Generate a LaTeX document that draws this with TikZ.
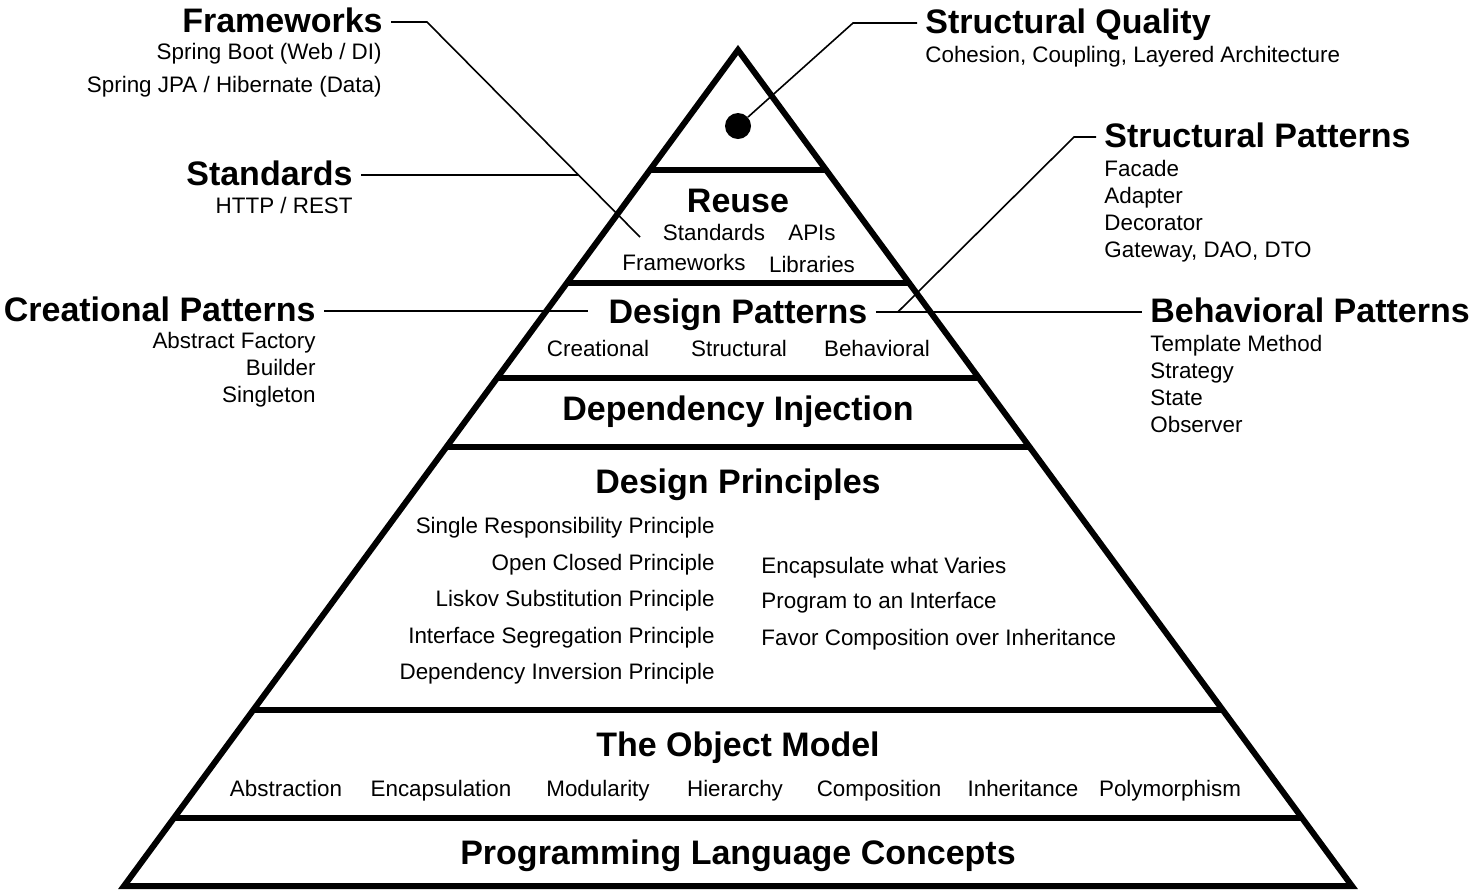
\documentclass[tikz,border=0pt]{standalone}
\usepackage{fontspec}
\setmainfont{Liberation Sans}
\usetikzlibrary{calc}
\begin{document}
\begin{tikzpicture}[x=0.5pt,y=-0.5pt, head/.style={font=\bfseries\fontsize{17}{20}\selectfont,text height=10pt,text depth=0pt,inner xsep=4pt,inner ysep=0pt}, item/.style={font=\fontsize{11.2}{13}\selectfont,inner sep=0pt}, layer/.style={line width=3pt,line join=miter}, lead/.style={line width=0.8pt}]
\useasboundingbox (0,0) rectangle (1471,891);
\coordinate (apex) at (738,50);\coordinate (bl) at (124,886);\coordinate (br) at (1352,886);
\draw[layer] (apex) -- (bl) -- (br) -- cycle;
\foreach \y in {170,283,378,447,710,818} \draw[layer] ($(apex)!{(\y-50)/836}!(bl)$) -- ($(apex)!{(\y-50)/836}!(br)$);
\node[circle,fill,minimum size=13pt,inner sep=0pt] (dot) at (738,126) {};
% layers
\node[head,anchor=base] (reuse) at (738,212) {Reuse};
\node[item,anchor=base] (rstd) at (714,240) {Standards};\node[item,anchor=base] (rapi) at (812,240) {APIs};
\node[item,anchor=base] (rfw) at (684,270) {Frameworks};\node[item,anchor=base] (rlib) at (812,272) {Libraries};
\node[head,anchor=base] (dp) at (738,323) {Design Patterns};
\node[item,anchor=base] (dpc) at (598,356) {Creational};\node[item,anchor=base] (dps) at (739,356) {Structural};\node[item,anchor=base] (dpb) at (877,356) {Behavioral};
\node[head,anchor=base] (di) at (738,420) {Dependency Injection};
\node[head,anchor=base] (prin) at (738,493) {Design Principles};
\foreach \t/\y [count=\i] in {Single Responsibility Principle/533,Open Closed Principle/570,Liskov Substitution Principle/606,Interface Segregation Principle/643,Dependency Inversion Principle/679}
  \node[item,anchor=base east] (pl\i) at (715,\y) {\t};
\foreach \t/\y [count=\i] in {Encapsulate what Varies/573,Program to an Interface/608,Favor Composition over Inheritance/645}
  \node[item,anchor=base west] (pr\i) at (761,\y) {\t};
\node[head,anchor=base] (om) at (738,756) {The Object Model};
\foreach \t/\x [count=\i] in {Abstraction/286,Encapsulation/441,Modularity/598,Hierarchy/735,Composition/879,Inheritance/1023,Polymorphism/1170}
  \node[item,anchor=base] (om\i) at (\x,796) {\t};
\node[head,anchor=base] (plc) at (738,864) {Programming Language Concepts};
% side labels
\node[head,anchor=base east] (fw) at (391,32) {Frameworks};
\node[item,anchor=base east] (fw1) at (382,59) {Spring Boot (Web / DI)};\node[item,anchor=base east] (fw2) at (382,92) {Spring JPA / Hibernate (Data)};
\node[head,anchor=base east] (std) at (361,185) {Standards};
\node[item,anchor=base east] (std1) at (353,213) {HTTP / REST};
\node[head,anchor=base east] (cp) at (324,321) {Creational Patterns};
\foreach \t [count=\i] in {Abstract Factory,Builder,Singleton} \node[item,anchor=base east] (cp\i) at (316,{321+27*\i}) {\t};
\node[head,anchor=base west] (sq) at (917,33) {Structural Quality};
\node[item,anchor=base west] (sq1) at (925,62) {Cohesion, Coupling, Layered Architecture};
\node[head,anchor=base west] (sp) at (1096,147) {Structural Patterns};
\foreach \t [count=\i] in {Facade,Adapter,Decorator,{Gateway, DAO, DTO}} \node[item,anchor=base west] (sp\i) at (1104,{149+27*\i}) {\t};
\node[head,anchor=base west] (bp) at (1142,322) {Behavioral Patterns};
\foreach \t [count=\i] in {Template Method,Strategy,State,Observer} \node[item,anchor=base west] (bp\i) at (1150,{324+27*\i}) {\t};
% leaders
\coordinate (fwbend) at (427,22);\coordinate (fwend) at (640,237);
\draw[lead] (fw.east) -- (fwbend) -- (fwend);
\coordinate (stdr) at ($(std.east)+(300,0)$);
\draw[lead] (std.east) -- (intersection of std.east--stdr and fwbend--fwend);
\coordinate (dpl) at ([xshift=-6pt]dp.west);
\draw[lead] (cp.east) -- (cp.east -| dpl);
\draw[lead] (bp.west -| dp.east) -- (bp.west);
\coordinate (spfoot) at ($(bp.west -| dp.east)+(22,0)$);\coordinate (spbend) at (1074,137);
\draw[lead] (spfoot) -- (spbend) -- (sp.west);
\coordinate (sqbend) at (853,23);
\draw[lead] (dot) -- (sqbend) -- (sq.west);
\end{tikzpicture}
\end{document}
